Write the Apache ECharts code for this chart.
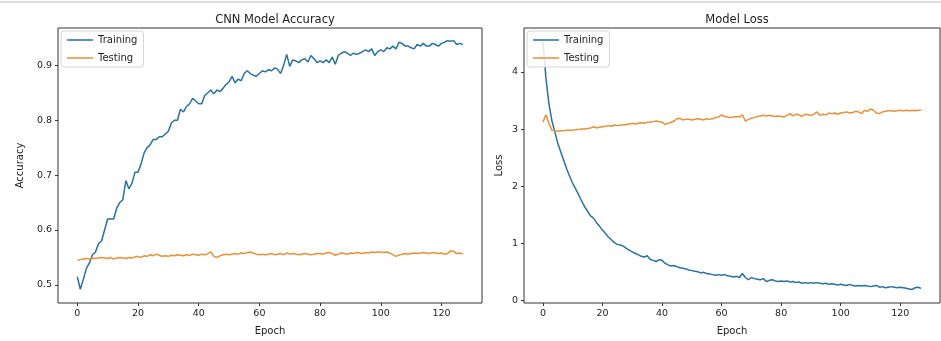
<!DOCTYPE html>
<html>
<head>
<meta charset="utf-8">
<script src="https://cdn.jsdelivr.net/npm/echarts@6/dist/echarts.min.js"></script>
<style>
  html, body { margin: 0; padding: 0; background: #fff; }
  #chart { width: 941px; height: 341px; }
</style>
</head>
<body>
<div id="chart"></div>
<script>
// values, one per epoch (0..127)
const trainAcc = [
  0.515, 0.492, 0.510, 0.530, 0.540, 0.555, 0.560, 0.575, 0.580, 0.600,
  0.620, 0.620, 0.620, 0.640, 0.650, 0.655, 0.690, 0.675, 0.685, 0.705,
  0.705, 0.720, 0.740, 0.750, 0.755, 0.765, 0.765, 0.770, 0.770, 0.775,
  0.780, 0.795, 0.800, 0.800, 0.820, 0.815, 0.825, 0.830, 0.840, 0.835,
  0.830, 0.830, 0.845, 0.850, 0.855, 0.848, 0.855, 0.852, 0.858, 0.865,
  0.870, 0.880, 0.868, 0.875, 0.872, 0.885, 0.890, 0.885, 0.882, 0.880,
  0.885, 0.890, 0.888, 0.892, 0.890, 0.895, 0.893, 0.885, 0.900, 0.920,
  0.898, 0.910, 0.908, 0.905, 0.910, 0.912, 0.906, 0.918, 0.912, 0.905,
  0.908, 0.905, 0.910, 0.905, 0.915, 0.902, 0.918, 0.922, 0.925, 0.922,
  0.918, 0.922, 0.920, 0.922, 0.925, 0.928, 0.925, 0.930, 0.918, 0.925,
  0.928, 0.925, 0.932, 0.930, 0.935, 0.930, 0.942, 0.940, 0.935, 0.935,
  0.932, 0.930, 0.938, 0.935, 0.940, 0.935, 0.935, 0.940, 0.938, 0.935,
  0.940, 0.942, 0.945, 0.944, 0.945, 0.938, 0.940, 0.938
];
const testAcc = [
  0.545, 0.546, 0.547, 0.548, 0.547, 0.549, 0.548, 0.549, 0.550, 0.549,
  0.548, 0.550, 0.547, 0.549, 0.550, 0.549, 0.548, 0.550, 0.549, 0.551,
  0.552, 0.550, 0.553, 0.552, 0.555, 0.553, 0.556, 0.554, 0.552, 0.553,
  0.552, 0.554, 0.553, 0.555, 0.554, 0.553, 0.555, 0.554, 0.556, 0.555,
  0.554, 0.556, 0.555, 0.557, 0.560, 0.552, 0.550, 0.553, 0.555, 0.556,
  0.555, 0.556, 0.557, 0.556, 0.558, 0.557, 0.559, 0.560, 0.558, 0.556,
  0.555, 0.556, 0.555, 0.556, 0.557, 0.555, 0.556, 0.557, 0.555, 0.558,
  0.556, 0.557, 0.556, 0.555, 0.556, 0.557, 0.556, 0.555, 0.556, 0.557,
  0.557, 0.556, 0.558, 0.559, 0.557, 0.554, 0.556, 0.558, 0.557, 0.556,
  0.558, 0.557, 0.559, 0.558, 0.557, 0.559, 0.558, 0.560, 0.559, 0.560,
  0.560, 0.559, 0.560, 0.558, 0.555, 0.552, 0.554, 0.556, 0.557, 0.556,
  0.557, 0.558, 0.557, 0.558, 0.559, 0.558, 0.557, 0.559, 0.558, 0.557,
  0.558, 0.556, 0.557, 0.562, 0.561, 0.557, 0.558, 0.556
];
const trainLoss = [
  4.55, 3.90, 3.45, 3.15, 2.95, 2.75, 2.60, 2.45, 2.30, 2.17,
  2.05, 1.95, 1.85, 1.74, 1.64, 1.56, 1.48, 1.44, 1.36, 1.30,
  1.23, 1.17, 1.11, 1.06, 1.01, 0.98, 0.97, 0.95, 0.91, 0.88,
  0.85, 0.82, 0.80, 0.77, 0.76, 0.78, 0.72, 0.70, 0.68, 0.71,
  0.70, 0.65, 0.62, 0.60, 0.61, 0.59, 0.57, 0.56, 0.55, 0.53,
  0.52, 0.51, 0.50, 0.48, 0.49, 0.47, 0.46, 0.45, 0.44, 0.45,
  0.44, 0.45, 0.43, 0.42, 0.41, 0.42, 0.40, 0.47, 0.40, 0.36,
  0.40, 0.38, 0.37, 0.36, 0.38, 0.33, 0.35, 0.36, 0.34, 0.33,
  0.34, 0.33, 0.34, 0.32, 0.33, 0.31, 0.32, 0.30, 0.31, 0.30,
  0.31, 0.30, 0.31, 0.30, 0.29, 0.30, 0.28, 0.29, 0.28, 0.27,
  0.28, 0.27, 0.26, 0.28, 0.26, 0.25, 0.26, 0.25, 0.26, 0.25,
  0.24, 0.25, 0.26, 0.23, 0.24, 0.22, 0.23, 0.24, 0.23, 0.22,
  0.23, 0.22, 0.21, 0.20, 0.19, 0.22, 0.23, 0.21
];
const testLoss = [
  3.12, 3.25, 3.10, 2.98, 2.97, 2.96, 2.97, 2.97, 2.98, 2.98,
  2.98, 2.99, 2.99, 3.00, 3.00, 3.01, 3.02, 3.04, 3.02, 3.03,
  3.04, 3.05, 3.06, 3.05, 3.07, 3.06, 3.07, 3.07, 3.08, 3.09,
  3.10, 3.09, 3.10, 3.11, 3.10, 3.12, 3.12, 3.13, 3.14, 3.13,
  3.12, 3.08, 3.10, 3.12, 3.14, 3.18, 3.19, 3.16, 3.17, 3.17,
  3.16, 3.17, 3.18, 3.17, 3.16, 3.18, 3.17, 3.18, 3.20, 3.21,
  3.25, 3.22, 3.21, 3.20, 3.21, 3.22, 3.21, 3.25, 3.14, 3.17,
  3.19, 3.20, 3.22, 3.23, 3.24, 3.23, 3.24, 3.23, 3.22, 3.23,
  3.22, 3.21, 3.24, 3.27, 3.23, 3.26, 3.25, 3.22, 3.26, 3.25,
  3.24, 3.26, 3.30, 3.24, 3.26, 3.25, 3.28, 3.27, 3.28, 3.26,
  3.28, 3.29, 3.30, 3.28, 3.29, 3.31, 3.30, 3.27, 3.33, 3.31,
  3.35, 3.33, 3.28, 3.27, 3.30, 3.31, 3.32, 3.32, 3.31, 3.32,
  3.33, 3.32, 3.33, 3.32, 3.33, 3.32, 3.33, 3.33
];
const epochTicks = [0, 20, 40, 60, 80, 100, 120];
const accTicks = [0.5, 0.6, 0.7, 0.8, 0.9];
const lossTicks = [0, 1, 2, 3, 4];

const blue = '#2a70a0';
const orange = '#e8913a';
const font = 'DejaVu Sans';

const chart = echarts.init(document.getElementById('chart'), null, { renderer: 'canvas' });

function pairs(arr) {
  return arr.map((v, i) => [i, v]);
}

function xAxisFor(gridIndex) {
  return {
    type: 'value',
    gridIndex: gridIndex,
    min: -6.35,
    max: 133.35,
    name: 'Epoch',
    nameLocation: 'middle',
    nameGap: 23,
    nameTextStyle: { fontFamily: font, fontSize: 10, color: '#222' },
    axisLine: { show: false, onZero: false },
    axisTick: { show: true, customValues: epochTicks, length: 3, lineStyle: { color: '#333' } },
    axisLabel: { customValues: epochTicks, fontFamily: font, fontSize: 9.5, color: '#222', margin: 6 },
    splitLine: { show: false }
  };
}

function yAxisFor(gridIndex, min, max, ticks, name, gap) {
  return {
    type: 'value',
    gridIndex: gridIndex,
    min: min,
    max: max,
    name: name,
    nameLocation: 'middle',
    nameGap: gap,
    nameTextStyle: { fontFamily: font, fontSize: 10, color: '#222' },
    axisLine: { show: false, onZero: false },
    axisTick: { show: true, customValues: ticks, length: 3, lineStyle: { color: '#333' } },
    axisLabel: { customValues: ticks, fontFamily: font, fontSize: 9.5, color: '#222', margin: 6 },
    splitLine: { show: false }
  };
}

function legendFor(left) {
  return {
    left: left,
    top: 31,
    orient: 'vertical',
    data: ['Training', 'Testing'],
    icon: 'rect',
    itemWidth: 26,
    itemHeight: 1.5,
    itemGap: 8,
    padding: [4, 6, 4, 6],
    borderColor: '#d6d6d6',
    borderWidth: 1,
    borderRadius: 3,
    backgroundColor: 'rgba(255,255,255,0.85)',
    textStyle: { fontFamily: font, fontSize: 10, color: '#222' }
  };
}

function lineSeries(name, data, color, xi, yi) {
  return {
    name: name,
    type: 'line',
    xAxisIndex: xi,
    yAxisIndex: yi,
    data: pairs(data),
    symbol: 'none',
    lineStyle: { color: color, width: 1.5 },
    itemStyle: { color: color },
    animation: false
  };
}

const option = {
  backgroundColor: '#fff',
  title: [
    { text: 'CNN Model Accuracy', left: 270, top: 9, textAlign: 'center',
      textStyle: { fontFamily: font, fontSize: 11.5, fontWeight: 'normal', color: '#222' } },
    { text: 'Model Loss', left: 732, top: 9, textAlign: 'center',
      textStyle: { fontFamily: font, fontSize: 11.5, fontWeight: 'normal', color: '#222' } }
  ],
  legend: [legendFor(61), legendFor(527)],
  graphic: [
    { type: 'line', shape: { x1: 0, y1: 2, x2: 941, y2: 2 }, style: { stroke: '#dcdcdc', lineWidth: 2 } }
  ],
  grid: [
    { left: 58, top: 28, width: 424, height: 279, show: true, borderColor: '#333', borderWidth: 1 },
    { left: 524, top: 28, width: 416, height: 279, show: true, borderColor: '#333', borderWidth: 1 }
  ],
  xAxis: [xAxisFor(0), xAxisFor(1)],
  yAxis: [
    yAxisFor(0, 0.467, 0.968, accTicks, 'Accuracy', 33),
    yAxisFor(1, -0.047, 4.77, lossTicks, 'Loss', 20)
  ],
  series: [
    lineSeries('Training', trainAcc, blue, 0, 0),
    lineSeries('Testing', testAcc, orange, 0, 0),
    lineSeries('Training', trainLoss, blue, 1, 1),
    lineSeries('Testing', testLoss, orange, 1, 1)
  ]
};

chart.setOption(option);
</script>
</body>
</html>
